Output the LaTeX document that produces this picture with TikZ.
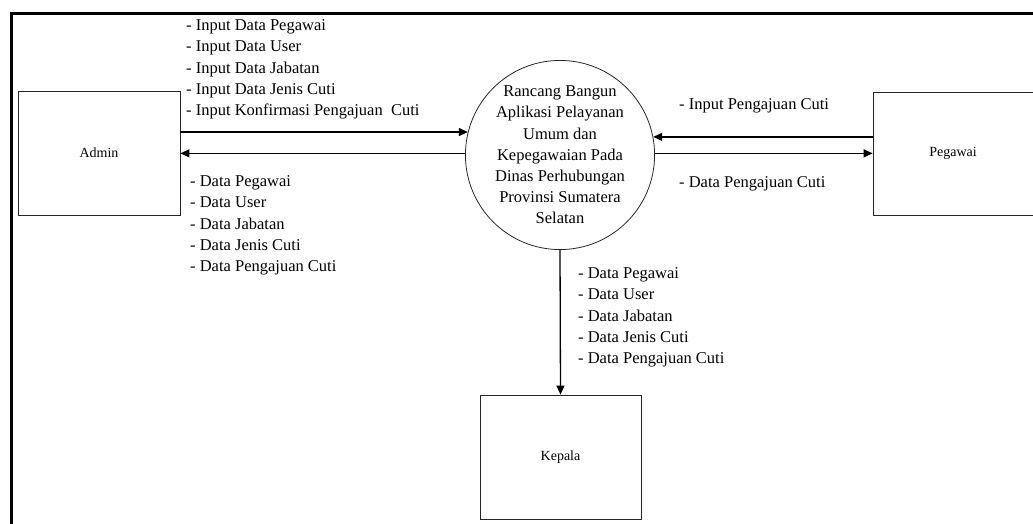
\documentclass[tikz,border=0pt]{standalone}
\usepackage{fontspec}
\setmainfont{Liberation Serif}
\usetikzlibrary{arrows.meta, calc}
\tikzset{
    my-entity/.style={
        draw=black!85, line width=.8pt, rectangle, inner sep=0pt,
        font=\fontsize{14}{16}\selectfont
    },
    my-process/.style={
        draw=black!85, line width=.8pt, circle, inner sep=0pt,
        minimum size=184pt, align=center,
        font=\fontsize{16.5}{21.2}\selectfont
    },
    my-flow/.style={
        draw=black, line width=1.3pt, -{Triangle[length=9pt, width=8pt]}
    },
    my-label/.style={
        anchor=west, align=left, inner sep=0pt,
        font=\fontsize{16.5}{21.2}\selectfont
    },
}

\begin{document}
\begin{tikzpicture}[x=1pt, y=-1pt]

        % CANVAS
        \useasboundingbox (0,0) rectangle (1033,524);
        \clip (0,0) rectangle (1033,524);
        \draw[line width=3pt] (11.5,530) |- (1040,13.5);

        % ENTITIES
        \node[my-entity, minimum width=162pt, minimum height=124pt] (ADMIN)   at (99,153)    {Admin};
        \node[my-entity, minimum width=160pt, minimum height=123pt] (PEGAWAI) at (953,153.5) {Pegawai};
        \node[my-entity, minimum width=161pt, minimum height=124pt] (KEPALA)  at (560.5,457) {Kepala};

        % PROCESS
        \node[my-process] (PROSES) at (560,155)
            {Rancang Bangun\\Aplikasi Pelayanan\\Umum dan\\Kepegawaian Pada\\Dinas Perhubungan\\Provinsi Sumatera\\Selatan};

        % ADMIN FLOWS
        \draw[my-flow] (ADMIN.east |- PROSES.166) -- (PROSES.166);
        \draw[my-flow] (PROSES.179) -- (ADMIN.east |- PROSES.179);

        % PEGAWAI FLOWS
        \draw[my-flow] (PEGAWAI.west |- PROSES.11) -- (PROSES.11);
        \draw[my-flow] (PROSES.1) -- (PEGAWAI.west |- PROSES.1);

        % KEPALA FLOW
        \draw[my-flow] (PROSES.south) -- (KEPALA.north);

        % LABELS
        \node[my-label] (INADMIN)  at (186,69.5)
            {- Input Data Pegawai\\- Input Data User\\- Input Data Jabatan\\- Input Data Jenis Cuti\\- Input Konfirmasi Pengajuan\ \ Cuti};
        \node[my-label] (OUTADMIN) at (190,225.5)
            {- Data Pegawai\\- Data User\\- Data Jabatan\\- Data Jenis Cuti\\- Data Pengajuan Cuti};
        \node[my-label] (INPEG)    at (679,106) {- Input Pengajuan Cuti};
        \node[my-label] (OUTPEG)   at (679,184) {- Data Pengajuan Cuti};
        \node[my-label] (OUTKEP)   at (578,317.5)
            {- Data Pegawai\\- Data User\\- Data Jabatan\\- Data Jenis Cuti\\- Data Pengajuan Cuti};

    \end{tikzpicture}
\end{document}
